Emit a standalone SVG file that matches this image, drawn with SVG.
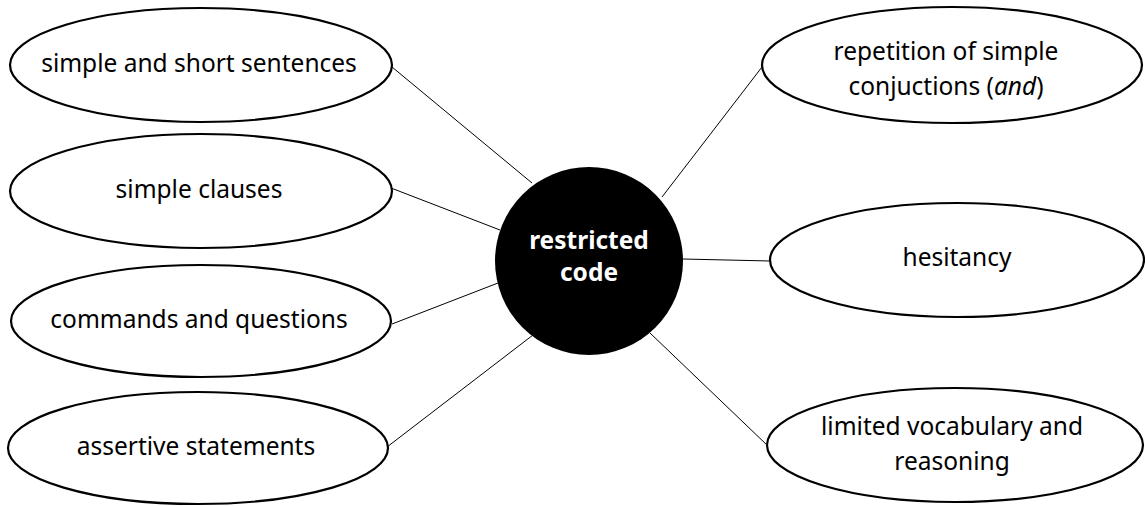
<svg xmlns="http://www.w3.org/2000/svg" width="1145" height="506" viewBox="0 0 1145 506">
<style>
.n{fill:#fff;stroke:#000;stroke-width:2.2}
.t{font-family:"Source Sans Pro","Noto Sans","Liberation Sans",sans-serif;font-size:24.5px;fill:#000;text-anchor:middle}
.c{stroke:#000;stroke-width:1;fill:none}
.h{font-family:"Source Sans Pro","Noto Sans","Liberation Sans",sans-serif;font-size:24.5px;font-weight:bold;fill:#fff;text-anchor:middle}
</style>
<rect width="1145" height="506" fill="#fff"/>
<g id="connectors">
<line class="c" x1="392" y1="67" x2="532" y2="183"/>
<line class="c" x1="391" y1="188" x2="500" y2="230"/>
<line class="c" x1="392" y1="324" x2="498" y2="283"/>
<line class="c" x1="387" y1="447" x2="533" y2="335"/>
<line class="c" x1="662" y1="197" x2="762" y2="67"/>
<line class="c" x1="683" y1="259" x2="770" y2="261"/>
<line class="c" x1="650" y1="333" x2="768" y2="446"/>
</g>
<g id="center">
<circle cx="589" cy="261" r="94" fill="#000"/>
<text class="h" x="589" y="249">restricted</text>
<text class="h" x="589" y="281">code</text>
</g>
<g id="n1">
<ellipse class="n" cx="201" cy="65" rx="191" ry="57"/>
<text class="t" x="199" y="72">simple and short sentences</text>
</g>
<g id="n2">
<ellipse class="n" cx="201" cy="191" rx="191" ry="57"/>
<text class="t" x="199" y="198">simple clauses</text>
</g>
<g id="n3">
<ellipse class="n" cx="201" cy="321" rx="190" ry="56"/>
<text class="t" x="199" y="328">commands and questions</text>
</g>
<g id="n4">
<ellipse class="n" cx="198" cy="448" rx="190" ry="56"/>
<text class="t" x="196" y="455">assertive statements</text>
</g>
<g id="n5">
<ellipse class="n" cx="952" cy="65" rx="190" ry="58"/>
<text class="t" x="946" y="60">repetition of simple</text>
<text class="t" x="946" y="95">conjuctions (<tspan font-style="italic">and</tspan>)</text>
</g>
<g id="n6">
<ellipse class="n" cx="957" cy="260" rx="187" ry="57"/>
<text class="t" x="957" y="266">hesitancy</text>
</g>
<g id="n7">
<ellipse class="n" cx="955" cy="445" rx="188" ry="57"/>
<text class="t" x="952" y="435">limited vocabulary and</text>
<text class="t" x="952" y="470">reasoning</text>
</g>
</svg>
